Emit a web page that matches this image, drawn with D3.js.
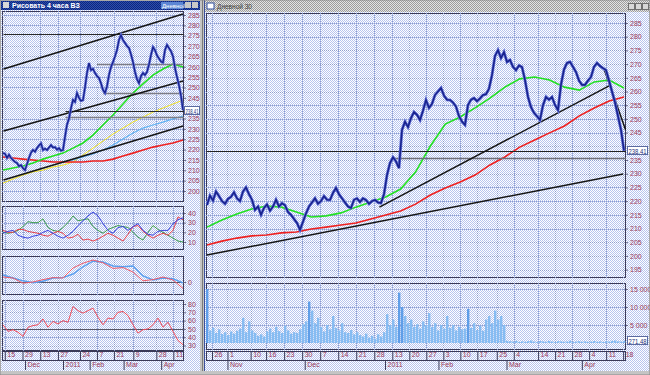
<!DOCTYPE html>
<html>
<head>
<meta charset="utf-8">
<script src="https://cdn.jsdelivr.net/npm/d3@7"></script>
<style>
body { margin: 0; background: #c8c8c8; }
svg { display: block; }
text { font-family: "Liberation Sans", Arial, sans-serif; }
</style>
</head>
<body>
<svg id="chart" width="650" height="375"></svg>
<script>
// ---------- left window (4 hours) ----------
var leftPrice = [218.3,218.0,216.0,217.5,216.0,215.0,214.0,213.5,212.0,212.5,
	211.0,210.1,213.0,216.0,218.5,219.8,219.0,220.7,222.0,223.0,
	219.8,220.5,219.8,221.0,222.2,221.0,221.2,220.0,220.7,219.5,
	219.8,226.1,232.0,235.0,240.0,244.0,243.0,247.3,245.0,243.5,
	243.9,250.0,257.0,261.8,258.4,259.0,257.0,255.5,254.6,252.0,
	248.8,247.3,250.5,256.0,259.9,262.3,265.0,268.1,273.0,275.3,
	272.9,271.5,270.0,269.1,266.0,262.3,257.5,254.0,252.1,255.5,
	257.0,256.0,257.5,261.0,265.7,269.5,268.0,265.5,264.0,262.5,
	262.0,268.1,270.5,269.0,267.5,265.0,259.4,255.0,251.0,246.0,
	239.1];
var leftGreen = [210.1,211.1,212.1,213.5,215.4,216.9,218.3,220.7,223.2,227.0,231.9,236.7,242.0,247.3,251.7,256.0,258.9,261.3,259.9];
var leftRed = [216.4,215.9,215.4,215.0,214.5,214.0,214.0,214.0,214.0,214.5,214.5,215.4,216.9,218.3,219.8,221.2,222.2,223.2,224.6];
var leftSky = [214.0,215.0,216.4,217.9,219.8,222.2,225.1,228.0,230.4,231.9,233.3,234.8,236.2];
var leftSkyStart = "2011-01-10";
var leftYellow = [203.8,205.8,207.7,209.2,210.1,211.6,212.5,214.0,217.4,220.7,224.1,227.5,230.4,233.3,235.7,238.1,240.1,242.0,243.9];

var oscBlue = [19,21,22,17,15,14,16,17,20,22,19,16,14,17,21,27,32,37,41,37,29,22,19,25,26,22,26,29,22,18,17,21,22,22,29,33,35];
var oscGreen = [20,19,20,22,26,31,30,30,34,25,22,21,25,30,37,32,33,34,26,22,19,23,25,27,26,25,20,15,12,20,27,23,20,17,14,11,10];
var oscRed = [22,20,20,23,23,21,20,19,17,16,19,21,19,14,15,18,12,13,11,13,16,19,17,14,11,18,26,27,21,17,14,17,19,17,22,36,33];
var macdBlue = [1.75,1.0,0.3,-0.2,0.2,1.0,1.1,2.0,3.8,5.2,5.0,4.0,3.8,4.0,1.5,0.5,1.0,0.8,-0.2];
var macdRed = [1.25,1.0,-0.3,0.0,0.6,1.1,1.0,3.5,4.7,5.5,4.8,3.4,3.6,2.5,0.3,0.6,1.25,0.5,-1.6];
var rsi = [55,47,49,46,41,52,54,55,62,52,59,56,60,58,77,72,69,72,75,64,55,63,62,70,71,66,55,45,49,50,55,63,52,58,47,36,31];

var leftTrends = [
	[["2010-11-14", 258.9], ["2011-04-19", 285.5]],
	[["2010-11-14", 229.0], ["2011-04-19", 253.1]],
	[["2010-11-14", 205.3], ["2011-04-19", 231.4]]
];
var leftLevelsDark = [["2010-11-14", 275.8], ["2011-01-12", 238.41]];
var leftLevelsGray = [["2011-01-12", 235.7], ["2011-02-07", 261.3], ["2011-02-12", 247.3]];

var leftPriceTicks = [200,205,210,215,220,225,230,235,240,245,250,255,260,265,270,275,280,285];
var oscTicks = [10,20,30,40];
var rsiTicks = [30,40,50,60,70,80];
var leftDates = ["2010-11-15","2010-11-29","2010-12-13","2010-12-27","2011-01-24","2011-02-07","2011-02-21","2011-03-09","2011-03-28","2011-04-11"];
var leftMonthDates = ["2010-12-01","2011-01-10","2011-02-01","2011-03-01","2011-04-01"];
var leftMonthNames = ["Dec","2011","Feb","Mar","Apr"];

// ---------- right window (daily) ----------
var rightPrice = [218.6,222.0,220.2,223.5,221.8,220.0,219.0,220.8,221.5,223.2,
	221.0,220.0,223.5,225.0,222.5,220.5,216.8,218.0,215.0,217.5,
	218.8,216.5,218.0,220.5,218.0,219.2,218.5,216.0,215.0,213.5,
	212.0,209.5,212.5,215.5,218.0,219.5,221.0,219.0,220.0,221.8,
	220.5,220.4,223.0,224.8,222.5,221.0,219.5,218.0,217.5,220.5,
	221.0,219.7,221.0,220.4,219.0,220.0,220.4,219.5,219.3,222.5,
	229.5,233.9,236.0,234.5,232.0,246.0,249.0,247.0,250.3,252.5,
	251.5,249.6,253.0,256.9,254.0,255.5,258.7,260.0,261.3,258.5,
	257.0,256.9,256.0,254.5,251.0,249.0,247.8,255.1,257.0,257.6,
	256.5,257.5,258.7,259.0,261.0,266.0,273.0,275.1,272.2,274.4,
	270.8,271.5,269.0,267.8,269.5,268.9,264.2,258.0,254.3,252.2,
	251.0,249.6,255.0,258.0,257.0,258.0,255.1,253.2,262.5,268.0,
	270.4,270.8,269.0,267.1,264.0,262.4,262.4,264.0,265.3,269.0,
	270.4,269.3,268.5,267.8,264.0,260.0,256.0,251.0,246.0,238.4];
var rightVolume = [15000,3500,4200,2800,3800,2500,3000,2200,3200,2600,
	3400,4000,7000,3000,6000,3500,2800,2000,2400,1800,
	3200,4000,3000,4500,3300,2800,4800,3500,2600,3000,
	2800,3800,5200,6000,11500,9000,5500,7000,4500,3200,
	5000,3800,7500,4200,3500,5500,3000,2800,3600,2400,
	3000,2200,1800,2600,1500,2000,1200,2400,1800,3000,
	8000,5000,6500,4500,14000,10000,7500,5500,6500,4500,
	5200,4000,6000,5000,8300,4500,5500,3500,5000,4000,
	7500,4200,5000,3500,4500,3800,4000,9500,4200,5500,
	3600,4800,3400,6500,7500,5500,9000,6500,7500,5000,
	600,500,400,600,300,450,350,500,700,400,
	300,550,450,350,600,400,300,500,450,350,
	400,650,300,400,500,350,450,300,400,550,
	350,450,300,500,400,600,700,450,400,600];
var rightGreen = [210.5,213.1,215.3,217.1,218.2,217.8,216.0,214.2,214.6,215.7,217.8,219.7,221.5,224.4,230.6,240.1,248.1,250.7,254.0,257.6,261.6,264.6,265.3,264.2,261.6,260.5,263.5,264.2,261.3];
var rightRed = [204.0,205.4,206.5,207.3,207.6,208.4,208.7,209.8,210.5,211.3,212.0,213.5,214.9,216.4,218.9,222.2,224.8,227.0,229.5,233.2,236.1,239.7,242.3,244.9,247.4,251.1,254.0,256.5,258.0];

var rightTrends = [
	[["2010-10-24", 200.3], ["2011-04-18", 229.9]],
	[["2010-12-30", 217.8], ["2011-04-13", 262.4]],
	[["2011-04-10", 268.6], ["2011-04-19", 246.0]]
];
var rightLevelsDark = [["2010-10-24", 238.41]];
var rightLevelsGray = [["2011-01-13", 235.7]];

var rightPriceTicks = [195,200,205,210,215,220,225,230,235,240,245,250,255,260,265,270,275,280,285];
var volumeTicks = [5000,10000,15000];
var rightDates = ["2010-10-26","2010-11-01","2010-11-10","2010-11-16","2010-11-23","2010-11-30","2010-12-07","2010-12-14","2010-12-21","2010-12-28",
	"2011-01-13","2011-01-20","2011-01-27","2011-02-03","2011-02-10","2011-02-17","2011-02-25","2011-03-04","2011-03-14","2011-03-21","2011-03-28","2011-04-04","2011-04-11","2011-04-18"];
var rightMonthDates = ["2010-11-01","2010-12-01","2011-01-10","2011-02-01","2011-03-01","2011-04-01"];
var rightMonthNames = ["Nov","Dec","2011","Feb","Mar","Apr"];

var lastPrice = "238.41";
var lastVolume = "271.48";

// ---------- setup ----------
var parse = d3.timeParse("%Y-%m-%d");
var svg = d3.select("#chart");
var defs = svg.append("defs");
var labelColor = "#9b3b5c";
var gridColor = "#8d9dcc";

function dither(id, c1, c2){
	var p = defs.append("pattern").attr("id", id)
		.attr("width", 2).attr("height", 2).attr("patternUnits", "userSpaceOnUse");
	p.append("rect").attr("width", 2).attr("height", 2).attr("fill", c1);
	p.append("rect").attr("width", 1).attr("height", 1).attr("fill", c2);
	p.append("rect").attr("x", 1).attr("y", 1).attr("width", 1).attr("height", 1).attr("fill", c2);
}
dither("blue", "#ffffff", "#b7c4ee");
dither("gray", "#e4e4e4", "#9c9c9c");
dither("title", "#2a4cb0", "#10287a");

// time scales skip the new year holidays
var xL = d3.scaleTime()
	.domain([parse("2010-11-12"), parse("2010-12-31"), parse("2011-01-10"), parse("2011-04-19")])
	.range([1, 63, 63, 183]);
var xR = d3.scaleTime()
	.domain([parse("2010-10-22"), parse("2010-12-31"), parse("2011-01-10"), parse("2011-04-20")])
	.range([201.7, 382, 385, 628]);

var yLP = d3.scaleLinear().domain([200, 285]).range([191, 15]);
var yOsc = d3.scaleLinear().domain([10, 40]).range([242, 213]);
var yMacd = d3.scaleLinear().domain([-2.75, 6.25]).range([293, 257]);
var yRsi = d3.scaleLinear().domain([30, 80]).range([345.5, 304]);
var yRP = d3.scaleLinear().domain([195, 285]).range([269.6, 23]);
var yVol = d3.scaleLinear().domain([0, 15000]).range([343, 289]);

// ---------- helpers ----------
function panel(id, x0, y0, x1, y1){
	defs.append("clipPath").attr("id", id).append("rect")
		.attr("x", x0).attr("y", y0).attr("width", x1 - x0).attr("height", y1 - y0);
	svg.append("rect").attr("x", x0 + 0.5).attr("y", y0 + 0.5)
		.attr("width", x1 - x0 - 1).attr("height", y1 - y0 - 1)
		.attr("fill", "url(#blue)").attr("stroke", "#3a3a58");
	return svg.append("g").attr("clip-path", "url(#" + id + ")");
}

function hGrid(g, y, ticks, x0, x1){
	g.selectAll(null).data(ticks).enter().append("line")
		.attr("x1", x0).attr("x2", x1)
		.attr("y1", function(d){ return Math.round(y(d)) + 0.5; })
		.attr("y2", function(d){ return Math.round(y(d)) + 0.5; })
		.attr("stroke", gridColor).attr("stroke-dasharray", "1,1");
}

function vGrid(g, x, dates, y0, y1){
	g.selectAll(null).data(dates).enter().append("line")
		.attr("x1", function(d){ return Math.round(x(parse(d))) + 0.5; })
		.attr("x2", function(d){ return Math.round(x(parse(d))) + 0.5; })
		.attr("y1", y0).attr("y2", y1)
		.attr("stroke", gridColor).attr("stroke-dasharray", "1,1");
}

function plot(g, values, x0, x1, y, color, w){
	var x = d3.scaleLinear().domain([0, values.length - 1]).range([x0, x1]);
	var line = d3.line().x(function(d, i){ return x(i); }).y(function(d){ return y(d); });
	return g.append("path").datum(values).attr("d", line)
		.attr("fill", "none").attr("stroke", color).attr("stroke-width", w)
		.attr("stroke-linejoin", "miter");
}

// price drawn as a fuzzy dark blue trace like the terminal's bars
function priceTrace(g, values, x0, x1, y, w){
	plot(g, values, x0, x1, y, "#6a78dc", w + 1.4);
	plot(g, values, x0, x1, y, "#18228c", w);
}

function segments(g, list, x, y, color, w){
	list.forEach(function(s){
		g.append("line")
			.attr("x1", x(parse(s[0][0]))).attr("y1", y(s[0][1]))
			.attr("x2", x(parse(s[1][0]))).attr("y2", y(s[1][1]))
			.attr("stroke", color).attr("stroke-width", w);
	});
}

function levels(g, list, x, y, xEnd, color, w){
	list.forEach(function(s){
		g.append("line")
			.attr("x1", x(parse(s[0]))).attr("x2", xEnd)
			.attr("y1", Math.round(y(s[1])) + 0.5).attr("y2", Math.round(y(s[1])) + 0.5)
			.attr("stroke", color).attr("stroke-width", w);
	});
}

// right hand labels; a tick hidden behind the price box is left unlabelled
function yLabels(xPos, y, ticks, fmt, avoid){
	var shown = ticks.filter(function(t){ return avoid === undefined || Math.abs(y(t) - avoid) > 7; });
	var g = svg.append("g").attr("transform", "translate(" + xPos + ",0)")
		.call(d3.axisRight(y).tickValues(shown).tickSize(2).tickPadding(2).tickFormat(fmt));
	g.select(".domain").remove();
	g.selectAll("line").attr("stroke", "#6a6a8a");
	g.selectAll("text").attr("fill", labelColor).style("font-size", "7px")
		.style("font-family", "'Liberation Sans', Arial, sans-serif");
}

function dateAxis(x, dates, monthDates, monthNames, x0, x1){
	svg.append("rect").attr("x", x0 + 0.5).attr("y", 351.5).attr("width", x1 - x0 - 1).attr("height", 9)
		.attr("fill", "url(#blue)").attr("stroke", "#3a3a58");
	var a = svg.append("g").attr("transform", "translate(0,351)")
		.call(d3.axisBottom(x).tickValues(dates.map(parse)).tickSize(9).tickFormat(d3.timeFormat("%-d")));
	a.select(".domain").remove();
	a.selectAll("line").attr("stroke", "#3a3a58");
	a.selectAll("text").attr("x", 2).attr("y", 1.5).attr("dy", "0.71em").attr("text-anchor", "start")
		.attr("fill", labelColor).style("font-size", "7px");
	var m = svg.append("g").attr("transform", "translate(0,361)")
		.call(d3.axisBottom(x).tickValues(monthDates.map(parse)).tickSize(9)
			.tickFormat(function(d, i){ return monthNames[i]; }));
	m.select(".domain").remove();
	m.selectAll("line").attr("stroke", "#3a3a58");
	m.selectAll("text").attr("x", 2).attr("y", 1.5).attr("dy", "0.71em").attr("text-anchor", "start")
		.attr("fill", labelColor).style("font-size", "7px");
}

function priceBox(x, y, w, txt){
	svg.append("rect").attr("x", x + 0.5).attr("y", y - 4.5).attr("width", w).attr("height", 8)
		.attr("fill", "#ffffff").attr("stroke", "#5a6aa0");
	svg.append("text").attr("x", x + 1.5).attr("y", y + 2.5).attr("fill", "#23307a")
		.attr("textLength", w - 2).attr("lengthAdjust", "spacingAndGlyphs")
		.style("font-size", "6.5px").text(txt);
}

// ---------- window chrome ----------
svg.append("rect").attr("width", 650).attr("height", 375).attr("fill", "#c4c4c4");
svg.append("rect").attr("x", 1).attr("y", 10).attr("width", 199).attr("height", 361).attr("fill", "url(#blue)");
svg.append("rect").attr("x", 205).attr("y", 12).attr("width", 444).attr("height", 359).attr("fill", "url(#blue)");
svg.append("line").attr("x1", 202.5).attr("x2", 202.5).attr("y1", 0).attr("y2", 375).attr("stroke", "#7a7a7a");
svg.append("line").attr("x1", 204.5).attr("x2", 204.5).attr("y1", 0).attr("y2", 375).attr("stroke", "#3b4f9a");

// left title bar
svg.append("rect").attr("x", 1).attr("y", 1).attr("width", 199).attr("height", 9).attr("fill", "url(#title)");
svg.append("rect").attr("x", 3).attr("y", 2).attr("width", 6).attr("height", 6).attr("fill", "#d8d8d8");
svg.append("text").attr("x", 12).attr("y", 8).attr("fill", "#ffffff")
	.style("font-size", "7px").style("font-weight", "bold").text("Рисовать 4 часа ВЗ");
svg.append("rect").attr("x", 161).attr("y", 2).attr("width", 22).attr("height", 7).attr("fill", "#5d86d4");
svg.append("text").attr("x", 162).attr("y", 8).attr("fill", "#ffffff").style("font-size", "6px").text("Дневной");
svg.append("rect").attr("x", 185).attr("y", 2).attr("width", 6).attr("height", 6).attr("fill", "#c8c8c8");
svg.append("rect").attr("x", 192).attr("y", 2).attr("width", 6).attr("height", 6).attr("fill", "#c8c8c8");

// right title bar
svg.append("rect").attr("x", 205).attr("y", 0).attr("width", 445).attr("height", 12).attr("fill", "url(#gray)");
svg.append("rect").attr("x", 207).attr("y", 3).attr("width", 7).attr("height", 6).attr("fill", "#ffffff").attr("stroke", "#3050a0");
svg.append("text").attr("x", 217).attr("y", 9).attr("fill", "#404040").style("font-size", "6.5px").text("Дневной  30");
[628, 635, 642].forEach(function(bx){
	svg.append("rect").attr("x", bx + 0.5).attr("y", 3.5).attr("width", 6).attr("height", 6)
		.attr("fill", "#d8d8d8").attr("stroke", "#707070");
});

// ---------- left price panel ----------
var gLP = panel("clipLP", 2, 11, 184, 202);
hGrid(gLP, yLP, leftPriceTicks, 2, 184);
vGrid(gLP, xL, leftDates, 11, 202);
plot(gLP, leftYellow, 3, 183, yLP, "#f2e21e", 1);
plot(gLP, leftSky, xL(parse(leftSkyStart)), 183, yLP, "#5fb2f2", 1.2);
plot(gLP, leftRed, 3, 183, yLP, "#ee2222", 1.6);
plot(gLP, leftGreen, 3, 183, yLP, "#22e022", 1.6);
levels(gLP, leftLevelsGray, xL, yLP, 184, "#7c7c86", 1.5);
levels(gLP, leftLevelsDark, xL, yLP, 184, "#2a2a2a", 1.2);
segments(gLP, leftTrends, xL, yLP, "#151515", 1.6);
priceTrace(gLP, leftPrice, 3, 183, yLP, 1.3);
yLabels(184, yLP, leftPriceTicks, d3.format("d"), Math.round(yLP(+lastPrice)));
priceBox(184, Math.round(yLP(+lastPrice)), 15, lastPrice);

// ---------- left oscillator panels ----------
var gO = panel("clipO", 2, 206, 184, 250);
hGrid(gO, yOsc, oscTicks, 2, 184);
vGrid(gO, xL, leftDates, 206, 250);
plot(gO, oscGreen, 3, 183, yOsc, "#3a9a4a", 1);
plot(gO, oscRed, 3, 183, yOsc, "#e8404a", 1);
plot(gO, oscBlue, 3, 183, yOsc, "#3a44e0", 1);
yLabels(184, yOsc, oscTicks, d3.format("d"));

var gM = panel("clipM", 2, 256, 184, 295);
vGrid(gM, xL, leftDates, 256, 295);
levels(gM, [["2010-11-12", 0]], xL, yMacd, 184, "#555566", 1);
plot(gM, macdBlue, 3, 183, yMacd, "#5aa0f0", 1.4);
plot(gM, macdRed, 3, 183, yMacd, "#ee5a6a", 1);
yLabels(184, yMacd, [0], d3.format("d"));

var gR = panel("clipR", 2, 300, 184, 351);
hGrid(gR, yRsi, rsiTicks, 2, 184);
vGrid(gR, xL, leftDates, 300, 351);
levels(gR, [["2010-11-12", 50]], xL, yRsi, 184, "#555566", 1);
plot(gR, rsi, 3, 183, yRsi, "#ee4a5a", 1);
yLabels(184, yRsi, rsiTicks, d3.format("d"));

dateAxis(xL, leftDates, leftMonthDates, leftMonthNames, 2, 184);

// ---------- right price panel ----------
var gRP = panel("clipRP", 206, 13, 626, 278);
hGrid(gRP, yRP, rightPriceTicks, 206, 626);
vGrid(gRP, xR, rightDates, 13, 278);
plot(gRP, rightRed, 207, 624, yRP, "#ee2020", 1.6);
plot(gRP, rightGreen, 207, 624, yRP, "#22e022", 1.6);
levels(gRP, rightLevelsGray, xR, yRP, 626, "#6e6e78", 1.6);
levels(gRP, rightLevelsDark, xR, yRP, 626, "#222222", 1.2);
segments(gRP, rightTrends, xR, yRP, "#151515", 1.5);
priceTrace(gRP, rightPrice, 207, 624, yRP, 1.6);
yLabels(626, yRP, rightPriceTicks, d3.format("d"), Math.round(yRP(+lastPrice)));
priceBox(627, Math.round(yRP(+lastPrice)), 20, lastPrice);

// ---------- right volume panel ----------
var gV = panel("clipV", 206, 283, 626, 350);
hGrid(gV, yVol, volumeTicks, 206, 626);
vGrid(gV, xR, rightDates, 283, 350);
var xVi = d3.scaleLinear().domain([0, rightVolume.length - 1]).range([207, 624]);
gV.selectAll(".vol").data(rightVolume).enter().append("rect")
	.attr("class", "vol")
	.attr("x", function(d, i){ return xVi(i) - 1; })
	.attr("y", function(d){ return yVol(d); })
	.attr("width", 2.4)
	.attr("height", function(d){ return yVol(0) - yVol(d); })
	.attr("fill", function(d){ return d > 9000 ? "#5f9ee8" : "#86bcf2"; });
yLabels(626, yVol, volumeTicks, function(d){ return d3.format(",")(d).replace(/,/g, " "); });
priceBox(627, 341, 20, lastVolume);

dateAxis(xR, rightDates, rightMonthDates, rightMonthNames, 206, 626);

// status strip
svg.append("rect").attr("x", 0).attr("y", 371).attr("width", 650).attr("height", 4).attr("fill", "#c4c4c4");
svg.append("rect").attr("x", 0).attr("y", 0).attr("width", 650).attr("height", 375)
	.attr("fill", "none").attr("stroke", "#8a8a8a");
</script>
</body>
</html>
